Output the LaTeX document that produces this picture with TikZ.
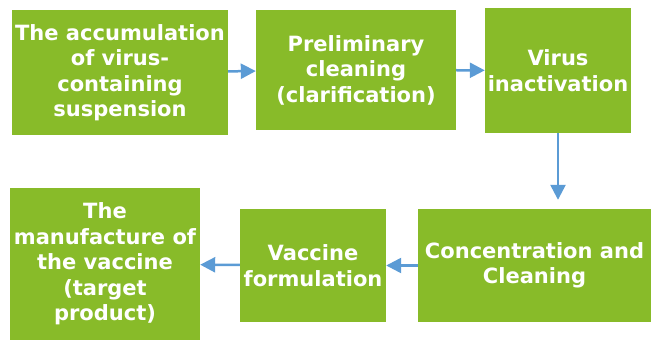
\documentclass[tikz,border=0pt]{standalone}
\usepackage{fontspec}
\setmainfont{DejaVu Sans}
\usetikzlibrary{arrows.meta,positioning}

\definecolor{stepgreen}{RGB}{136,187,41}
\definecolor{flowblue}{RGB}{91,155,213}

\begin{document}
\begin{tikzpicture}[x=1pt,y=-1pt,>={Triangle[length=15pt,width=15pt]}]
\tikzset{
  stage/.style={rectangle, fill=stepgreen, text=white, align=center, inner sep=0pt,
    font=\fontsize{21}{25.5}\selectfont\bfseries},
  flow/.style={->, flowblue, line width=2.5pt}
}
\useasboundingbox (0,0) rectangle (656,340);

\node (accum) [stage, minimum width=216pt, minimum height=125pt] at (120,72.5) {The accumulation\\of virus-\\containing\\suspension};
\node (clarif) [stage, minimum width=200pt, minimum height=120pt] at (356,70) {Preliminary\\cleaning\\(clarification)};
\node (inact) [stage, minimum width=146pt, minimum height=125pt] at (558,70.5) {Virus\\inactivation};
\node (conc) [stage, minimum width=233pt, minimum height=113pt] at (534.5,265.5) {Concentration and\\Cleaning};
\node (form) [stage, minimum width=146pt, minimum height=113pt] at (313,265.5) {Vaccine\\formulation};
\node (prod) [stage, minimum width=190pt, minimum height=152pt] at (105,264) {The\\manufacture of\\the vaccine\\(target\\product)};

\draw[flow] (accum) -- (clarif);
\draw[flow] (clarif) -- (inact);
\draw[flow, shorten >=9pt] (inact) -- (inact |- conc.north);
\draw[flow] (conc) -- (form);
\draw[flow] (form) -- (prod);
\end{tikzpicture}
\end{document}
